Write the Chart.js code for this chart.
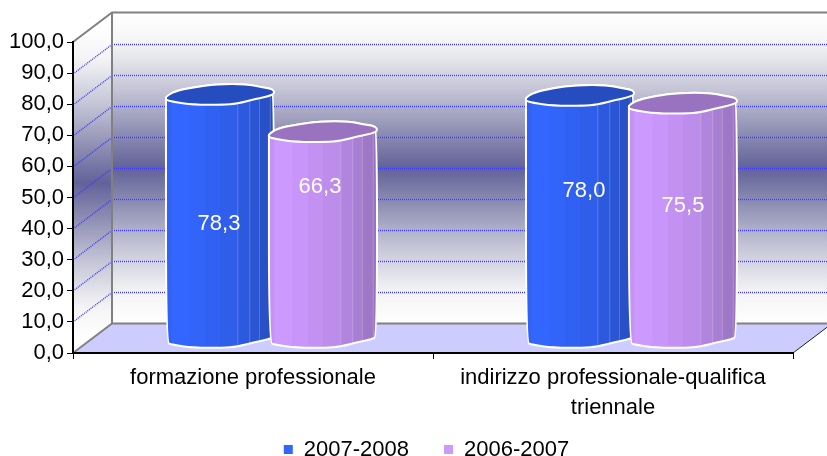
<!DOCTYPE html>
<html>
<head>
<meta charset="utf-8">
<style>
  html, body { margin: 0; padding: 0; background: #fff; }
</style>
<script src="https://cdn.jsdelivr.net/npm/chart.js@4"></script>
</head>
<body>
<canvas id="chart" width="827" height="456"></canvas>
<script>
var categories = ['formazione professionale', ['indirizzo professionale-qualifica', 'triennale']];
var series2007 = [78.3, 78.0];
var series2006 = [66.3, 75.5];
var seriesNames = ['2007-2008', '2006-2007'];
var yTicks = [0, 10, 20, 30, 40, 50, 60, 70, 80, 90, 100];

var DEPTH_X = 39, DEPTH_Y = 29.5;
var FONT = '"Liberation Sans", Arial, sans-serif';

// outline of the cylinder cap: x as a share of the half width, y in px from the centre
var capTop = [[-1, 4], [-1, 2], [-0.84, -3.5], [-0.5, -7.5], [-0.06, -10.7], [0.5, -10.7], [0.75, -7.5], [0.92, -6.5], [1, -4]];
var capBottom = [[1, -1], [0.9, 1.5], [0.68, 4], [0.31, 9], [0.06, 10], [-0.5, 10], [-0.88, 7], [-1, 5]];
// facets of the body, left to right: edge as a share of the width, darkening
var facets = [[0, 0.96], [0.05, 1], [0.22, 0.98], [0.36, 0.95], [0.5, 0.92], [0.66, 0.87], [0.77, 0.83], [0.86, 0.78], [0.96, 0.75], [1, 0.75]];
// the reference places its value labels by hand
var labelNudge = [[[-2, 8], [-4, -48]], [[3, -26], [-1, -15]]];

function shade(hex, f) {
  var n = parseInt(hex.slice(1), 16);
  return 'rgb(' + Math.round((n >> 16) * f) + ',' + Math.round(((n >> 8) & 255) * f) + ',' + Math.round((n & 255) * f) + ')';
}

// closed path through the midpoints of a polygon, so corners come out rounded
function smoothPath(ctx, pts) {
  var n = pts.length;
  ctx.beginPath();
  ctx.moveTo((pts[n - 1][0] + pts[0][0]) / 2, (pts[n - 1][1] + pts[0][1]) / 2);
  pts.forEach(function (p, i) {
    var q = pts[(i + 1) % n];
    ctx.quadraticCurveTo(p[0], p[1], (p[0] + q[0]) / 2, (p[1] + q[1]) / 2);
  });
  ctx.closePath();
}

function capPath(ctx, cx, cy, hw) {
  smoothPath(ctx, capTop.concat(capBottom).map(function (p) {
    return [cx + p[0] * hw, cy + p[1]];
  }));
}

function bodyPath(ctx, cx, top, bottom, hw) {
  var upper = capTop.map(function (p) { return [cx + p[0] * hw, top + p[1]]; });
  var lower = capBottom.map(function (p) { return [cx + p[0] * hw, bottom + p[1]]; });
  smoothPath(ctx, upper.concat(lower));
}

function drawCylinder(ctx, bar, color) {
  var cx = bar.x + DEPTH_X / 2 - 1, hw = bar.width / 2;
  var top = bar.y - DEPTH_Y / 2, bottom = bar.base - DEPTH_Y / 2;

  ctx.save();
  bodyPath(ctx, cx, top, bottom, hw);
  ctx.save();
  ctx.clip();
  facets.forEach(function (f, i) {
    if (i === facets.length - 1) return;
    var x0 = cx - hw + f[0] * bar.width, x1 = cx - hw + facets[i + 1][0] * bar.width;
    ctx.fillStyle = shade(color, f[1]);
    ctx.fillRect(x0, top - 12, x1 - x0 + 1, bottom - top + 26);
    if (i >= 5) {
      ctx.fillStyle = 'rgba(255,255,255,0.22)';
      ctx.fillRect(x0, top - 12, 1, bottom - top + 26);
    }
  });
  ctx.restore();
  bodyPath(ctx, cx, top, bottom, hw);
  ctx.strokeStyle = '#fff';
  ctx.lineWidth = 2;
  ctx.lineJoin = 'round';
  ctx.stroke();
  capPath(ctx, cx, top, hw);
  ctx.fillStyle = shade(color, 0.75);
  ctx.fill();
  ctx.stroke();
  ctx.restore();
}

var depthPlugin = {
  id: 'depth',
  beforeDraw: function (chart) {
    var ctx = chart.ctx, a = chart.chartArea, y = chart.scales.y;
    var x0 = a.left, x1 = a.right, yb = a.bottom, yt = a.top;
    var bx = x0 + DEPTH_X, right = x1 + DEPTH_X;

    function wallGradient(from, to) {
      var g = ctx.createLinearGradient(0, from, 0, to);
      g.addColorStop(0, '#ffffff');
      g.addColorStop(0.1, '#f4f4f6');
      g.addColorStop(0.25, '#c4c4d6');
      g.addColorStop(0.38, '#9090b4');
      g.addColorStop(0.5, '#62629a');
      g.addColorStop(0.62, '#9090b4');
      g.addColorStop(0.75, '#c4c4d6');
      g.addColorStop(0.9, '#f4f4f6');
      g.addColorStop(1, '#ffffff');
      return g;
    }
    ctx.save();
    // back wall
    ctx.fillStyle = wallGradient(yt - DEPTH_Y, yb - DEPTH_Y);
    ctx.fillRect(bx, yt - DEPTH_Y, right - bx, yb - yt);
    // side wall
    ctx.fillStyle = wallGradient(yt - DEPTH_Y / 2, yb - DEPTH_Y / 2);
    ctx.beginPath();
    ctx.moveTo(x0, yb); ctx.lineTo(bx, yb - DEPTH_Y); ctx.lineTo(bx, yt - DEPTH_Y); ctx.lineTo(x0, yt);
    ctx.closePath();
    ctx.fill();
    // floor
    ctx.fillStyle = '#ccccff';
    ctx.beginPath();
    ctx.moveTo(x0, yb); ctx.lineTo(x1, yb); ctx.lineTo(right, yb - DEPTH_Y); ctx.lineTo(bx, yb - DEPTH_Y);
    ctx.closePath();
    ctx.fill();
    // dotted gridlines on both walls
    ctx.strokeStyle = '#3c3cff';
    ctx.lineWidth = 1.4;
    ctx.setLineDash([1, 1]);
    yTicks.slice(1, -1).forEach(function (v) {
      var py = Math.round(y.getPixelForValue(v) - DEPTH_Y) + 0.5;
      ctx.beginPath();
      ctx.moveTo(x0, py + DEPTH_Y); ctx.lineTo(bx, py);
      ctx.stroke();
      ctx.beginPath();
      ctx.moveTo(bx, py); ctx.lineTo(right, py);
      ctx.stroke();
    });
    ctx.setLineDash([]);
    // wall edges
    ctx.strokeStyle = '#808080';
    ctx.lineWidth = 2;
    ctx.beginPath();
    ctx.moveTo(x0, yt); ctx.lineTo(bx, yt - DEPTH_Y); ctx.lineTo(right, yt - DEPTH_Y);
    ctx.moveTo(bx, yt - DEPTH_Y); ctx.lineTo(bx, yb - DEPTH_Y); ctx.lineTo(right, yb - DEPTH_Y);
    ctx.moveTo(x0, yb); ctx.lineTo(bx, yb - DEPTH_Y);
    ctx.stroke();
    ctx.strokeStyle = '#222';
    ctx.lineWidth = 1;
    ctx.beginPath();
    ctx.moveTo(x1, yb); ctx.lineTo(right, yb - DEPTH_Y);
    ctx.stroke();
    ctx.restore();
  },
  beforeDatasetsDraw: function (chart) {
    var ctx = chart.ctx;
    chart.data.datasets.forEach(function (ds, i) {
      chart.getDatasetMeta(i).data.forEach(function (bar) {
        drawCylinder(ctx, bar, ds.backgroundColor);
      });
    });
    ctx.save();
    ctx.font = '22px ' + FONT;
    ctx.fillStyle = '#fff';
    ctx.textAlign = 'center';
    ctx.textBaseline = 'middle';
    chart.data.datasets.forEach(function (ds, i) {
      chart.getDatasetMeta(i).data.forEach(function (bar, j) {
        var n = labelNudge[j][i];
        var tx = bar.x + DEPTH_X / 2 + n[0];
        var ty = (bar.y + bar.base) / 2 - DEPTH_Y / 2 + n[1];
        ctx.fillText(ds.data[j].toFixed(1).replace('.', ','), tx, ty);
      });
    });
    ctx.restore();
    return false;
  },
  afterLayout: function (chart) {
    // the wide legend gap would take layout room: move the legend to the foot,
    // and let the x labels use the room under it (they are clipped to the scale box)
    var legend = chart.legend, pad = chart.options.plugins.legend.labels.padding;
    legend.top = 449.5 - 11 - pad;
    legend.left += 30;
    legend.right += 30;
    chart.scales.x.bottom = 436;
  }
};

new Chart(document.getElementById('chart').getContext('2d'), {
  type: 'bar',
  data: {
    labels: categories,
    datasets: [
      { label: seriesNames[0], data: series2007, backgroundColor: '#3366ff' },
      { label: seriesNames[1], data: series2006, backgroundColor: '#cc99ff' }
    ]
  },
  options: {
    responsive: false,
    animation: false,
    layout: { padding: { top: 42, right: 34, left: 0, bottom: 0 } },
    datasets: { bar: { categoryPercentage: 0.572, barPercentage: 1.05 } },
    plugins: {
      tooltip: { enabled: false },
      legend: {
        position: 'bottom',
        labels: { boxWidth: 9, boxHeight: 9, padding: 35, color: '#000', font: { family: FONT, size: 22 } }
      }
    },
    scales: {
      x: {
        grid: { drawOnChartArea: false, color: '#000', tickLength: 6 },
        border: { color: '#000', width: 2 },
        ticks: { color: '#000', padding: 4, maxRotation: 0, autoSkip: false, font: { family: FONT, size: 22, lineHeight: 1.36 } },
        afterFit: function (s) { s.height = 36; }
      },
      y: {
        min: 0,
        max: 100,
        afterBuildTicks: function (s) { s.ticks = yTicks.map(function (v) { return { value: v }; }); },
        grid: { drawOnChartArea: false, color: '#000', tickLength: 6 },
        border: { color: '#000', width: 2 },
        ticks: {
          color: '#000',
          padding: 3,
          font: { family: FONT, size: 22 },
          callback: function (v) { return v.toFixed(1).replace('.', ','); }
        },
        afterFit: function (s) { s.width = 73; }
      }
    }
  },
  plugins: [depthPlugin]
});
</script>
</body>
</html>
